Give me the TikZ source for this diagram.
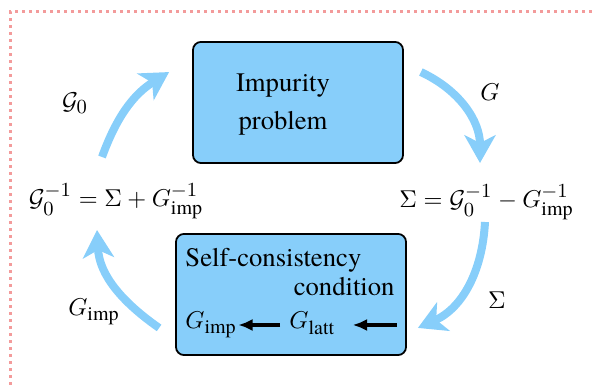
\documentclass[tikz,border=0pt,12pt]{standalone}
\usepackage{fontspec}
\setmainfont{TeX Gyre Termes}
\DeclareMathSizes{10.95}{10.95}{9}{7}
\usetikzlibrary{arrows.meta,positioning,calc}
\definecolor{skyfill}{HTML}{87CEFA}
\definecolor{skyarrow}{HTML}{87CEFA}
\definecolor{framepink}{HTML}{F39B9B}
\newcommand{\mathsz}{\fontsize{10.95}{13}\selectfont}
\tikzset{
  stagebox/.style={
    rectangle, rounded corners=3.6pt, draw=black, fill=skyfill, thick,
    minimum width=#1, minimum height=54.5pt,
    inner sep=0pt
  },
  stagebox/.default=94.5pt,
  cyclearrow/.style={
    -{Stealth[length=12.5pt, width=14pt, inset=3.5pt]}, line width=3.6pt,
    color=skyarrow
  },
  lattarrow/.style={
    -{Latex[length=6.5pt, width=5.5pt]}, line width=1.4pt, color=black
  },
  boxtext/.style={inner sep=0pt, font=\normalsize\rmfamily},
  eqtext/.style={inner sep=0pt, anchor=base, font=\mathsz},
  looplabel/.style={font=\mathsz},
  framedots/.style={draw=framepink, line width=1.35pt,
    dash pattern=on 1.35pt off 1.8pt},
}

\begin{document}
\begin{tikzpicture}[x=0.45pt, y=0.45pt]
  \useasboundingbox (0,0) rectangle (594,385);
  % frame
  \draw[framedots] (10,0) -- (10,373) -- (594,373);
  % impurity solver
  \node[stagebox] (imp) at (298,282.5) {};
  \node[boxtext, align=center] (imptext) at (283,280) {Impurity\\[2.6pt]problem};
  % self-consistency
  \node[stagebox=103.5pt] (sc) at (291,90.5) {};
  \node[boxtext, anchor=base west] (sctitle) at (185,118) {Self-consistency};
  \node[boxtext, anchor=base east] (sccond) at (395,89) {condition};
  \node[eqtext, anchor=base west] (gimp) at (185,56) {$G_{\mathrm{imp}}$};
  \node[eqtext, anchor=base west] (glatt) at (289,56) {$G_{\mathrm{latt}}$};
  \draw[lattarrow] ([shift={(-9,4)}]glatt.base west) -- ([shift={(1,4)}]gimp.base east);
  \draw[lattarrow] ([shift={(61,4)}]glatt.base east) -- ([shift={(17,4)}]glatt.base east);
  % equations
  \node[eqtext] (leq) at (116,178) {$\mathcal{G}_0^{-1} = \Sigma + G_{\mathrm{imp}}^{-1}$};
  \node[eqtext] (req) at (486.5,177) {$\Sigma = \mathcal{G}_0^{-1} - G_{\mathrm{imp}}^{-1}$};
  % labels
  \node[looplabel] (lgzero) at (75,282) {$\mathcal{G}_0$};
  \node[looplabel] (lg) at (490,293) {$G$};
  \node[looplabel] (lsigma) at (497,85) {$\Sigma$};
  \node[looplabel] (lgimp) at (94,73) {$G_{\mathrm{imp}}$};
  % loop
  \draw[cyclearrow] ([shift={(-14,50)}]leq.base) to[out=70,in=212]
    ([shift={(-23,-31)}]imp.north west);
  \draw[cyclearrow] ([shift={(17,-31)}]imp.north east) to[out=-25,in=90]
    ([shift={(-6.5,45)}]req.base);
  \draw[cyclearrow] ([shift={(-1.5,-14)}]req.base) to[out=-93,in=24]
    ([shift={(11,28)}]sc.south east);
  \draw[cyclearrow] ([shift={(-16,28)}]sc.south west) to[out=145,in=-87]
    ([shift={(-19,-23)}]leq.base);
\end{tikzpicture}
\end{document}
